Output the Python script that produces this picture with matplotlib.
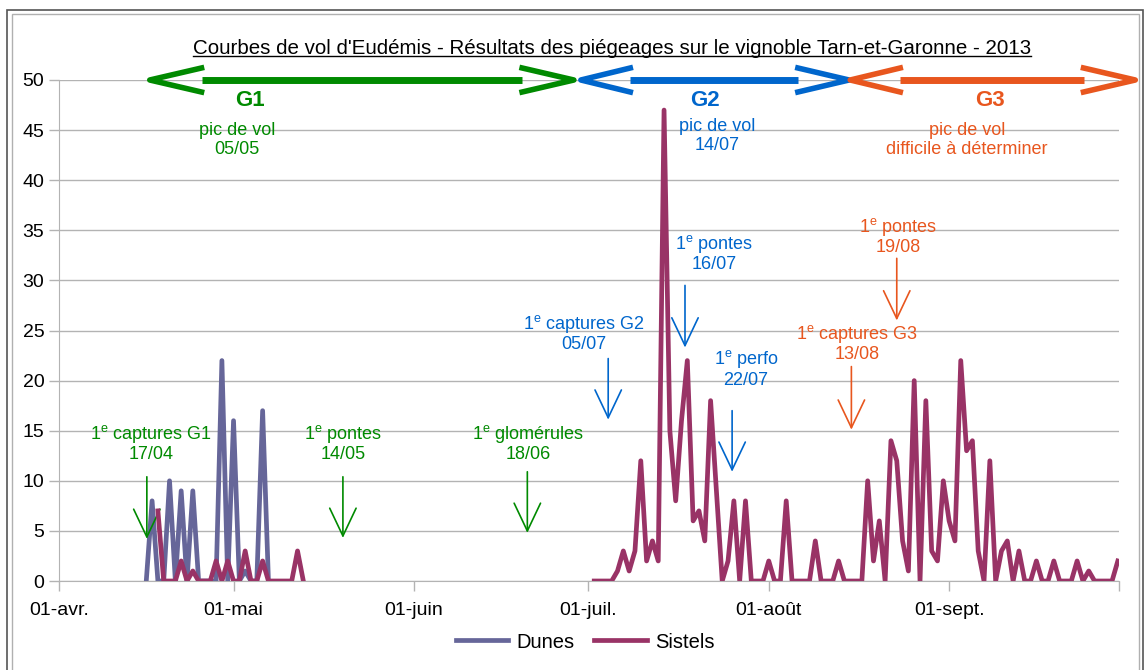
import numpy as np
import pandas as pd
import matplotlib
matplotlib.use('Agg')
import matplotlib.pyplot as plt
import matplotlib.dates as mdates
from matplotlib.lines import Line2D
from matplotlib.patches import Rectangle

plt.rcParams['font.family'] = ['Liberation Sans', 'DejaVu Sans']
plt.rcParams['mathtext.fontset'] = 'custom'
plt.rcParams['mathtext.rm'] = 'Liberation Sans'

# Données de piégeage (captures par jour)
dunes_debut = '2013-04-16'
dunes = [0, 8, 0, 0, 10, 0, 9, 0, 9, 0, 0, 0, 0, 22, 0, 16, 0, 1, 0, 0, 17, 0]

sistels_avril_debut = '2013-04-18'
sistels_avril = [7, 0, 0, 0, 2, 0, 1, 0, 0, 0, 2, 0, 2, 0, 0, 3, 0, 0, 2, 0,
                 0, 0, 0, 0, 3, 0]

sistels_ete_debut = '2013-07-02'
sistels_ete = [0, 0, 0, 0,
               1, 3, 1, 3, 12, 2, 4, 2,
               47, 15, 8, 16, 22, 6, 7, 4, 18, 9,
               0, 2, 8, 0, 8, 0, 0, 0, 2, 0, 0, 8,
               0, 0, 0, 0, 4, 0, 0, 0, 2, 0, 0, 0, 0,
               10, 2, 6, 0, 14, 12, 4, 1, 20, 0, 18, 3, 2,
               10, 6, 4, 22, 13, 14, 3, 0, 12, 0, 3, 4,
               0, 3, 0, 0, 2, 0, 0, 2, 0, 0, 0, 2, 0, 1, 0, 0, 0, 0, 2]

mois = ['2013-04-01', '2013-05-01', '2013-06-01', '2013-07-01', '2013-08-01', '2013-09-01']
mois_labels = ['01-avr.', '01-mai', '01-juin', '01-juil.', '01-août', '01-sept.']

VERT = '#008a00'
BLEU = '#0066cc'
ORANGE = '#e8561e'
C_DUNES = '#666699'
C_SISTELS = '#993366'


def serie(debut, valeurs):
    dates = pd.date_range(debut, periods=len(valeurs), freq='D')
    return dates, np.array(valeurs)


t0 = mdates.date2num(pd.Timestamp('2013-04-01'))
def jour(n):
    return t0 + n


fig = plt.figure(figsize=(11.45, 6.7), dpi=100)
ax = fig.add_axes([59/1145, 89/670, 1060/1145, 501/670])

d, v = serie(dunes_debut, dunes)
ax.plot(d, v, color=C_DUNES, lw=3.4, label='Dunes', zorder=3)
d, v = serie(sistels_avril_debut, sistels_avril)
ax.plot(d, v, color=C_SISTELS, lw=3.4, label='Sistels', zorder=4)
d, v = serie(sistels_ete_debut, sistels_ete)
ax.plot(d, v, color=C_SISTELS, lw=3.4, zorder=4)

ax.set_xlim(jour(0), jour(182.2))
ax.set_ylim(0, 50)
ax.set_yticks(np.arange(0, 51, 5))
ax.set_xticks([mdates.date2num(pd.Timestamp(m)) for m in mois] + [jour(182.2)])
ax.set_xticklabels(mois_labels + [''])
ax.tick_params(axis='both', labelsize=14, color='#b3b3b3', length=7, width=1)
ax.tick_params(axis='x', pad=8)
ax.grid(axis='y', color='#b3b3b3', lw=1)
ax.set_axisbelow(True)
for s in ['top', 'right']:
    ax.spines[s].set_visible(False)
for s in ['left', 'bottom']:
    ax.spines[s].set_color('#b3b3b3')


# Doubles flèches des générations
def double_fleche(a, b, c, e, couleur):
    kw = dict(color=couleur, clip_on=False, zorder=5)
    ax.plot([jour(b), jour(a), jour(b)], [51.2, 50, 48.8], lw=4.0, **kw)
    ax.plot([jour(b), jour(c)], [50, 50], lw=5.0, solid_capstyle='butt', **kw)
    ax.plot([jour(c), jour(e), jour(c)], [51.2, 50, 48.8], lw=4.0, **kw)

double_fleche(15.6, 24.5, 79.6, 88.5, VERT)
double_fleche(89.7, 98.2, 127, 135.8, BLEU)
double_fleche(136, 144.6, 176.1, 185, ORANGE)

for x, txt, c in [(32.8, 'G1', VERT), (111, 'G2', BLEU), (160, 'G3', ORANGE)]:
    ax.text(jour(x), 48.0, txt, color=c, fontsize=16, fontweight='bold',
            ha='center', va='center')

for x, y, txt, c in [(30.6, 44.0, 'pic de vol\n05/05', VERT),
                     (113.1, 44.4, 'pic de vol\n14/07', BLEU),
                     (156.1, 44.0, 'pic de vol\ndifficile à déterminer', ORANGE)]:
    ax.text(jour(x), y, txt, color=c, fontsize=13, ha='center', va='center',
            linespacing=1.1)

# Événements : (x texte, y texte, texte, x flèche, y haut, y pointe, couleur)
E = r'1$^{\rm e}$ '
evenements = [
    (15.8, 13.8, E + 'captures G1\n17/04', 15.1, 10.4, 4.2, VERT),
    (48.8, 13.8, E + 'pontes\n14/05', 48.8, 10.4, 4.3, VERT),
    (80.6, 13.8, E + 'glomérules\n18/06', 80.5, 10.9, 4.8, VERT),
    (90.2, 24.75, E + 'captures G2\n05/07', 94.4, 22.2, 16.1, BLEU),
    (112.6, 32.7, E + 'pontes\n16/07', 107.6, 29.5, 23.3, BLEU),
    (118.1, 21.2, E + 'perfo\n22/07', 115.7, 17.0, 10.9, BLEU),
    (144.2, 34.4, E + 'pontes\n19/08', 144.0, 32.2, 26.0, ORANGE),
    (137.2, 23.75, E + 'captures G3\n13/08', 136.2, 21.4, 15.1, ORANGE),
]
for xt, yt, txt, xf, yh, yp, c in evenements:
    ax.text(jour(xt), yt, txt, color=c, fontsize=13, ha='center', va='center',
            linespacing=1.1)
    ax.annotate('', xy=(jour(xf), yp), xytext=(jour(xf), yh),
                arrowprops=dict(arrowstyle='->,head_length=2.0,head_width=0.95',
                                color=c, lw=1.2, shrinkA=0, shrinkB=0,
                                mutation_scale=10))

titre = fig.text(612/1145, 1 - 48/670,
                 "Courbes de vol d'Eudémis - Résultats des piégeages sur le vignoble Tarn-et-Garonne - 2013",
                 fontsize=14.8, ha='center', va='center')

ax.legend(loc='center', bbox_to_anchor=(585/1145, 28/670), bbox_transform=fig.transFigure,
          ncol=2, frameon=False, fontsize=14.5, handlelength=2.6, columnspacing=1.0,
          handletextpad=0.4)

# Cadre
fig.patches.append(Rectangle((7/1145, -0.05), 1136/1145, 1.05 - 10/670, fill=False,
                             ec='#555555', lw=1.2, transform=fig.transFigure))
fig.patches.append(Rectangle((12/1145, -0.05), 1127/1145, 1.05 - 14/670, fill=False,
                             ec='#b0b0b0', lw=1.0, transform=fig.transFigure))

# Soulignement du titre
fig.canvas.draw()
bb = titre.get_window_extent().transformed(fig.transFigure.inverted())
fig.lines.append(Line2D([bb.x0, bb.x1], [bb.y0 + 0.002, bb.y0 + 0.002], color='black',
                        lw=1, transform=fig.transFigure))

fig.savefig('out.png', dpi=100)
